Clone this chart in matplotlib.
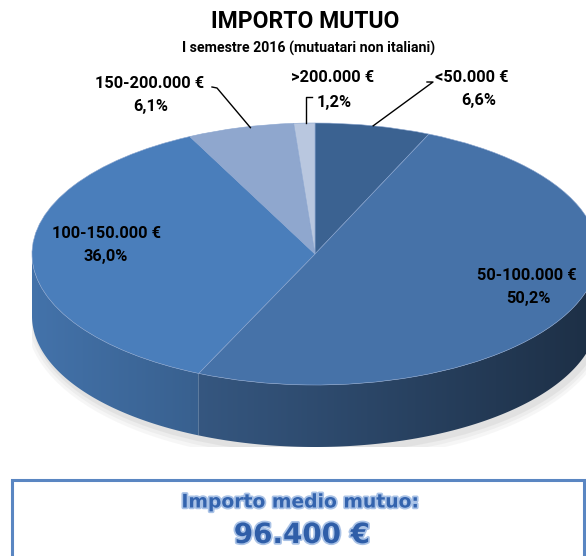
import matplotlib
matplotlib.use("Agg")
import matplotlib.pyplot as plt
import matplotlib.patheffects as pe
from matplotlib.patches import Polygon, Rectangle, Ellipse
import numpy as np

# ---------------- data ----------------
categories = ["<50.000 €", "50-100.000 €", "100-150.000 €", "150-200.000 €", ">200.000 €"]
values = [6.6, 50.2, 36.0, 6.1, 1.2]
pct_labels = ["6,6%", "50,2%", "36,0%", "6,1%", "1,2%"]
title = "IMPORTO MUTUO"
subtitle = "I semestre 2016 (mutuatari non italiani)"
box_title = "Importo medio mutuo:"
box_value = "96.400 €"

top_colors = ["#3B6291", "#4672A8", "#4A7EBB", "#8FA7CE", "#B9C7DF"]

W, H = 586, 556
fig = plt.figure(figsize=(W / 100, H / 100), dpi=100)

# ---------------- pie geometry (pixels) ----------------
cx, cy, a, b, depth = 315, 254, 283, 131, 62
d = depth / b

ax = fig.add_axes([(cx - a) / W, (H - (cy + b + depth)) / H, 2 * a / W, (2 * b + depth) / H])
ax.set_zorder(1)

# soft shadow under pie
for k, al in enumerate([0.05, 0.06, 0.08]):
    ax.add_patch(Ellipse((0.01, -d - 0.02), 2.0 + 0.02 * (3 - k), 2.0 + 0.06 * (3 - k),
                         facecolor="#606060", alpha=al, lw=0, zorder=0))

wedges, _ = ax.pie(values, colors=top_colors, startangle=90, counterclock=False,
                   radius=1, wedgeprops=dict(linewidth=0.4, edgecolor="#8aa5cf"))
for w in wedges:
    w.set_zorder(5)
ax.set_aspect("auto")
ax.set_xlim(-1, 1)
ax.set_ylim(-1 - d, 1)
ax.axis("off")

# sides (front half), shaded by horizontal position using a clipped gradient image
total = float(sum(values))
cum = np.concatenate([[0], np.cumsum(values)]) / total

def shade(c):
    return 0.66 - 0.25 * c

xgrid = np.linspace(-1, 1, 600)
for i in range(len(values)):
    t2 = 90 - 360 * cum[i]
    t1 = 90 - 360 * cum[i + 1]
    base = np.array(matplotlib.colors.to_rgb(top_colors[i]))
    for k in (-360, 0, 360):
        lo = max(t1, 180 + k)
        hi = min(t2, 360 + k)
        if lo >= hi:
            continue
        th = np.radians(np.linspace(lo, hi, 200))
        xs, ys = np.cos(th), np.sin(th)
        pts = np.vstack([np.column_stack([xs, ys]), np.column_stack([xs[::-1], ys[::-1] - d])])
        poly = Polygon(pts, closed=True, facecolor="none", edgecolor="none", zorder=2)
        ax.add_patch(poly)
        img = np.clip(base[None, None, :] * shade(xgrid)[None, :, None], 0, 1)
        img = np.repeat(img, 2, axis=0)
        im = ax.imshow(img, extent=(-1, 1, -1 - d, 1), aspect="auto", zorder=2,
                       interpolation="bilinear")
        im.set_clip_path(poly)

ax.set_xlim(-1, 1)
ax.set_ylim(-1 - d, 1)

# ---------------- overlay (pixel coordinates) ----------------
ov = fig.add_axes([0, 0, 1, 1])
ov.set_zorder(2)
ov.set_xlim(0, W)
ov.set_ylim(H, 0)
ov.axis("off")
ov.patch.set_alpha(0)

FONT = ["Roboto", "DejaVu Sans"]
ov.text(305, 21, title, ha="center", va="center", fontsize=16.5, fontweight="bold",
        family=FONT, color="black")
ov.text(309, 48, subtitle, ha="center", va="center", fontsize=10.2, fontweight="bold",
        family=FONT, color="black")

label_pos = [((472, 78), (479, 101)),
             ((527, 276), (528, 299)),
             ((106, 234), (106, 256)),
             ((150, 83), (151, 106)),
             ((333, 78), (334, 102))]
for i in range(len(values)):
    (nx, ny), (px, py) = label_pos[i]
    ov.text(nx, ny, categories[i], ha="center", va="center", fontsize=11.8, fontweight="bold",
            family=FONT, color="black")
    ov.text(px, py, pct_labels[i], ha="center", va="center", fontsize=11.8, fontweight="bold",
            family=FONT, color="black")

def edge_point(i):
    mid = np.radians(90 - 360 * (cum[i] + cum[i + 1]) / 2)
    p = ax.transData.transform((np.cos(mid), np.sin(mid)))
    return ov.transData.inverted().transform(p)

leader_starts = {0: [(427, 82), (433, 82)], 3: [(212, 87), (217, 88)], 4: [(312, 97), (306, 97)]}
for i, pts in leader_starts.items():
    ex, ey = edge_point(i)
    if i == 4:
        seq = pts + [(pts[-1][0], ey)]
    else:
        seq = pts + [(ex + (10 if i == 3 else 0), ey)]
    xs, ys = zip(*seq)
    ov.plot(xs, ys, color="black", lw=1.0, zorder=6)

# ---------------- bottom box ----------------
ov.add_patch(Rectangle((12, 480), 572, 90, facecolor="white", edgecolor="#5A86C2", lw=2.2, zorder=3))
fx = [pe.Stroke(linewidth=2.5, foreground="#a9c2e6"), pe.Normal()]
ov.text(300, 502, box_title, ha="center", va="center", fontsize=13.5, fontweight="bold",
        family="DejaVu Sans", color="#3464AE", path_effects=fx, zorder=4)
ov.text(302, 535, box_value, ha="center", va="center", fontsize=20, fontweight="bold",
        family="DejaVu Sans", color="#2F5EA8", path_effects=fx, zorder=4)

fig.savefig("out.png", dpi=100)
